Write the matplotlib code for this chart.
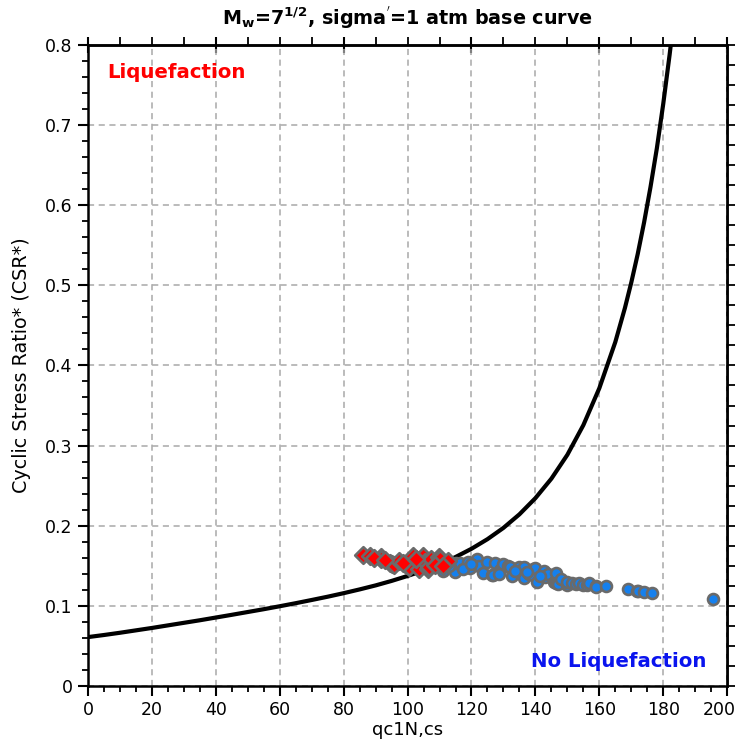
import numpy as np
import matplotlib
matplotlib.use("Agg")
import matplotlib.pyplot as plt
import matplotlib.transforms as mtransforms
from matplotlib.ticker import MultipleLocator

# base curve (qc1N,cs -> CRR)
curve_q = [0, 5, 10, 15, 20, 25, 30, 35, 40, 45, 50, 55, 60, 65, 70, 75, 80, 85, 90,
           95, 100, 105, 110, 115, 120, 125, 130, 135, 140, 145, 150, 155, 160, 165,
           168, 170, 172, 174, 176, 178, 180, 182, 183]
curve_crr = [0.061, 0.0636, 0.0664, 0.0694, 0.0724, 0.0756, 0.0788, 0.0820, 0.0854,
             0.0888, 0.0923, 0.0958, 0.0995, 0.1033, 0.1073, 0.1114, 0.1158, 0.1205,
             0.1255, 0.1311, 0.1373, 0.144, 0.1519, 0.1609, 0.1712, 0.1832, 0.1973,
             0.2142, 0.2344, 0.2587, 0.2885, 0.3255, 0.3716, 0.4292, 0.4716, 0.5035,
             0.5388, 0.5784, 0.6224, 0.671, 0.7265, 0.788, 0.8215]

# liquefied points (red diamonds)
liq_q = [86.1, 88.4, 91.6, 91.8, 94.4, 95.0, 95.8, 97.4, 99.5, 100.5, 101.6, 103.7,
         104.7, 105.5, 106.3, 106.8, 107.4, 109.8, 110.0, 112.6, 89.5, 93.0, 98.5,
         102.5, 108.5, 111.0]
liq_csr = [0.163, 0.162, 0.161, 0.159, 0.153, 0.152, 0.151, 0.156, 0.151, 0.149,
           0.162, 0.146, 0.162, 0.155, 0.146, 0.148, 0.158, 0.161, 0.159, 0.156,
           0.160, 0.157, 0.154, 0.158, 0.151, 0.150]

# non-liquefied points (blue circles)
nol_q = [111.0, 114.7, 115.2, 116.3, 118.9, 119.5, 121.6, 122.5, 123.7, 124.7,
         126.3, 126.8, 127.3, 129.0, 130.0, 131.5, 132.0, 132.6, 134.0, 135.0,
         136.3, 136.3, 138.0, 139.4, 139.4, 140.0, 140.5, 142.6, 143.0, 144.0,
         145.7, 146.3, 146.3, 147.0, 148.0, 150.0, 150.0, 151.5, 152.6, 153.6,
         155.0, 156.2, 156.8, 158.9, 158.9, 162.0, 168.9, 171.8, 172.0, 174.1,
         176.6, 195.5, 113.0, 117.5, 120.0, 128.5, 133.5, 137.5, 141.5]
nol_csr = [0.143, 0.142, 0.153, 0.153, 0.155, 0.147, 0.158, 0.150, 0.141, 0.155,
           0.139, 0.138, 0.153, 0.145, 0.152, 0.150, 0.149, 0.137, 0.143, 0.148,
           0.148, 0.135, 0.140, 0.146, 0.138, 0.147, 0.130, 0.143, 0.136, 0.140,
           0.130, 0.141, 0.128, 0.127, 0.133, 0.126, 0.130, 0.129, 0.127, 0.128,
           0.126, 0.126, 0.129, 0.125, 0.124, 0.125, 0.121, 0.119, 0.118, 0.117,
           0.116, 0.108, 0.150, 0.146, 0.152, 0.140, 0.144, 0.142, 0.137]

xticks = list(range(0, 201, 20))
yticks = [0, 0.1, 0.2, 0.3, 0.4, 0.5, 0.6, 0.7, 0.8]

plt.rcParams['font.family'] = ['DejaVu Sans']

fig = plt.figure(figsize=(7.39, 7.42), dpi=100)
ax = fig.add_axes([0.119, 0.0755, 0.865, 0.864])

ax.set_xlim(0, 200)
ax.set_ylim(0, 0.8)
ax.set_xticks(xticks)
ax.set_yticks(yticks)
ax.set_xticklabels([str(t) for t in xticks])
ax.set_yticklabels(["0"] + ["%.1f" % t for t in yticks[1:]])
ax.xaxis.set_minor_locator(MultipleLocator(5))
ax.yaxis.set_minor_locator(MultipleLocator(0.02))
ax.tick_params(which='major', direction='out', length=7, width=1.5, labelsize=12.5, pad=4)
ax.tick_params(which='minor', direction='out', length=4, width=1.3)
ax.grid(True, which='major', color='#a8a8a8', linestyle=(0, (4, 3)), linewidth=1.1)
ax.set_axisbelow(True)
for s in ax.spines.values():
    s.set_linewidth(1.8)

# keep the "200" label inside the figure
last = ax.get_xticklabels()[-1]
last.set_transform(last.get_transform() +
                   mtransforms.ScaledTranslation(-6 / 72, 0, fig.dpi_scale_trans))

# top and right axes carry their own tick spacing
top = ax.secondary_xaxis('top')
top.set_xticks(range(0, 201, 40))
top.xaxis.set_minor_locator(MultipleLocator(10))
top.tick_params(which='major', direction='inout', length=12, width=1.5, labeltop=False)
top.tick_params(which='minor', direction='out', length=6, width=1.3)
top.spines['top'].set_linewidth(1.8)

right = ax.secondary_yaxis('right')
right.set_yticks(np.arange(0, 0.801, 0.025))
right.tick_params(which='major', direction='out', length=6, width=1.3, labelright=False)
right.spines['right'].set_linewidth(1.8)

ax.plot(curve_q, curve_crr, color='black', linewidth=3, zorder=3,
        solid_joinstyle='round')

ax.scatter(nol_q, nol_csr, s=62, marker='o', color='#1580ee', edgecolors='#6a6a6a',
           linewidths=1.9, zorder=4)
ax.scatter(liq_q, liq_csr, s=72, marker='D', color='#ff0000', edgecolors='#6a6a6a',
           linewidths=1.9, zorder=5)

ax.text(6, 0.765, "Liquefaction", color='#ff0000', fontsize=14.2, fontweight='bold',
        va='center', ha='left')
ax.text(193.5, 0.03, "No Liquefaction", color='#0a14ee', fontsize=14.2,
        fontweight='bold', va='center', ha='right')

ax.set_title("M$_\\mathbf{w}$=7$^\\mathbf{1/2}$, sigma$^\\mathbf{'}$=1 atm base curve",
             fontsize=13.8, fontweight='bold', pad=14)
ax.set_xlabel("qc1N,cs", fontsize=13, labelpad=1)
ax.set_ylabel("Cyclic Stress Ratio* (CSR*)", fontsize=13.8, labelpad=10)

fig.savefig("out.png", dpi=100)
